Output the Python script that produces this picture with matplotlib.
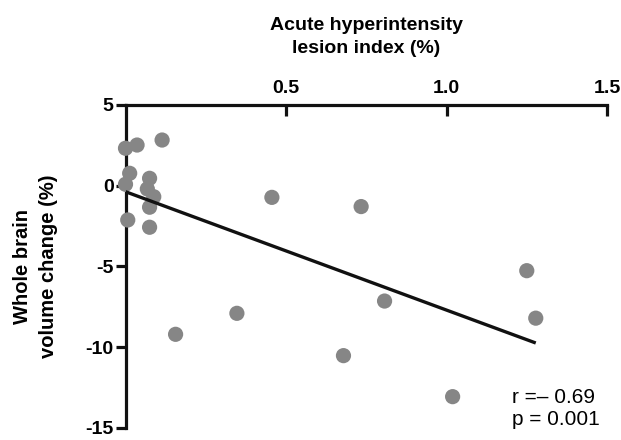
import numpy as np
import matplotlib
matplotlib.use("Agg")
import matplotlib.pyplot as plt

plt.rcParams['font.family'] = ['Liberation Sans', 'DejaVu Sans']
plt.rcParams['axes.unicode_minus'] = False

# lesion index (%) and whole brain volume change (%)
lesion_index = [0.0, 0.036, 0.114, 0.013, 0.0, 0.075, 0.068, 0.088, 0.075, 0.007,
                0.075, 0.456, 0.734, 1.25, 0.807, 0.347, 0.156, 1.278, 0.679, 1.019]
volume_change = [2.32, 2.52, 2.83, 0.77, 0.09, 0.46, -0.2, -0.68, -1.33, -2.12,
                 -2.57, -0.72, -1.29, -5.26, -7.14, -7.9, -9.2, -8.2, -10.52, -13.06]

# regression line as drawn in the figure
fit_slope = -7.33
fit_intercept = -0.37

x_ticks = [0.5, 1.0, 1.5]
x_ticklabels = ['0.5', '1.0', '1.5']
y_ticks = [5, 0, -5, -10, -15]

fig = plt.figure(figsize=(6.21, 4.4), dpi=100)
ax = fig.add_axes([0.2021, 0.0273, 0.7754, 0.7341])

ax.scatter(lesion_index, volume_change, s=120, color='#868686', edgecolors='none',
           zorder=3, clip_on=False)

fx = np.array([0.0, max(lesion_index)])
ax.plot(fx, fit_intercept + fit_slope * fx, color='#111111', lw=2.4,
        solid_capstyle='butt', zorder=4)

ax.set_xlim(0, 1.5)
ax.set_ylim(-15, 5)

ax.spines['right'].set_visible(False)
ax.spines['bottom'].set_visible(False)
for side in ['top', 'left']:
    ax.spines[side].set_linewidth(2.3)
    ax.spines[side].set_color('#111111')
    ax.spines[side].set_capstyle('projecting')

ax.xaxis.tick_top()
ax.set_xticks(x_ticks)
ax.set_xticklabels(x_ticklabels)
ax.set_yticks(y_ticks)
ax.tick_params(axis='x', direction='in', length=8, width=2.3, color='#111111',
               pad=6, labelsize=14)
ax.tick_params(axis='y', direction='out', length=7, width=2.3, color='#111111',
               pad=1.5, labelsize=14)
for lab in ax.get_xticklabels() + ax.get_yticklabels():
    lab.set_fontweight('bold')

ax.xaxis.set_label_position('top')
ax.set_xlabel('Acute hyperintensity\nlesion index (%)', fontsize=14,
              fontweight='bold', labelpad=19, linespacing=1.45)
ax.set_ylabel('Whole brain\nvolume change (%)', fontsize=14.5,
              fontweight='bold', labelpad=20, linespacing=1.45)

ax.text(1.203, -13.8, 'r =\u2013 0.69\np = 0.001', fontsize=15, va='center',
        ha='left', linespacing=1.15)

fig.savefig('out.png', dpi=100)
